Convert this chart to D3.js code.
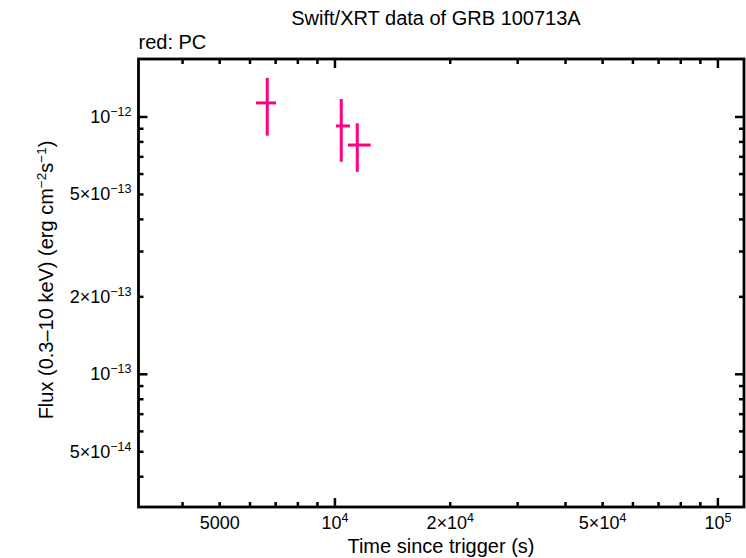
<!DOCTYPE html>
<html>
<head>
<meta charset="utf-8">
<script src="https://cdn.jsdelivr.net/npm/d3@7"></script>
<style>
  body { margin: 0; background: #fff; }
  text { font-family: "Liberation Sans", Arial, sans-serif; fill: #000; }
</style>
</head>
<body>
<div id="chart"></div>
<script>
// Swift/XRT light curve, PC mode
var times    = [6656, 10386, 11436];
var timeLo   = [6221, 10060, 10812];
var timeHi   = [7015, 10943, 12396];
var flux     = [1.134e-12, 9.23e-13, 7.78e-13];
var fluxLo   = [8.46e-13, 6.70e-13, 6.12e-13];
var fluxHi   = [1.419e-12, 1.175e-12, 9.45e-13];

var xTicks = [[5000, "5000", null], [1e4, "10", "4"], [2e4, "2\u00d710", "4"], [5e4, "5\u00d710", "4"], [1e5, "10", "5"]];
var yTicks = [[1e-12, "10", "\u221212"], [5e-13, "5\u00d710", "\u221213"], [2e-13, "2\u00d710", "\u221213"], [1e-13, "10", "\u221213"], [5e-14, "5\u00d710", "\u221214"]];

var width = 746, height = 558,
    margin = {left: 138.5, right: 2, top: 59, bottom: 51};

var svg = d3.select('#chart').append('svg')
  .attr('width', width)
  .attr('height', height);

var x = d3.scaleLog()
  .domain([3069, 1.17e5])
  .range([margin.left, width - margin.right]);

var y = d3.scaleLog()
  .domain([3.05e-14, 1.68e-12])
  .range([height - margin.bottom, margin.top]);

var x0 = x.range()[0], x1 = x.range()[1],
    y0 = y.range()[0], y1 = y.range()[1];

// minor / major ticks on all four sides
var xt = x.ticks(), yt = y.ticks();
function isDecade(v) { return Math.abs(Math.log10(v) - Math.round(Math.log10(v))) < 1e-6; }

var ticks = svg.append('g').attr('stroke', '#000').attr('stroke-width', 2.5);
xt.forEach(function(v) {
  var len = isDecade(v) ? 9 : 5;
  ticks.append('line').attr('x1', x(v)).attr('x2', x(v)).attr('y1', y0).attr('y2', y0 - len);
  ticks.append('line').attr('x1', x(v)).attr('x2', x(v)).attr('y1', y1).attr('y2', y1 + len);
});
yt.forEach(function(v) {
  var len = isDecade(v) ? 9 : 5;
  ticks.append('line').attr('y1', y(v)).attr('y2', y(v)).attr('x1', x0).attr('x2', x0 + len);
  ticks.append('line').attr('y1', y(v)).attr('y2', y(v)).attr('x1', x1).attr('x2', x1 - len);
});

svg.append('rect')
  .attr('x', x0).attr('y', y1)
  .attr('width', x1 - x0).attr('height', y0 - y1)
  .attr('fill', 'none').attr('stroke', '#000').attr('stroke-width', 2.8);

// tick labels
var xl = svg.append('g').selectAll('text').data(xTicks).enter()
  .append('text')
  .attr('x', function(d) { return x(d[0]); })
  .attr('y', y0 + 22)
  .attr('text-anchor', 'middle')
  .style('font-size', '18px');
xl.append('tspan').text(function(d) { return d[1]; });
xl.append('tspan').attr('dy', -7).style('font-size', '12.5px').text(function(d) { return d[2] || ''; });

var yl = svg.append('g').selectAll('text').data(yTicks).enter()
  .append('text')
  .attr('x', x0 - 7)
  .attr('y', function(d) { return y(d[0]) + 6; })
  .attr('text-anchor', 'end')
  .style('font-size', '18px');
yl.append('tspan').text(function(d) { return d[1]; });
yl.append('tspan').attr('dy', -7).style('font-size', '12.5px').text(function(d) { return d[2]; });

// titles
svg.append('text')
  .attr('x', 436).attr('y', 25)
  .attr('text-anchor', 'middle')
  .style('font-size', '20px')
  .text('Swift/XRT data of GRB 100713A');

svg.append('text')
  .attr('x', x0).attr('y', 49)
  .style('font-size', '20px')
  .text('red: PC');

svg.append('text')
  .attr('x', 441).attr('y', 553)
  .attr('text-anchor', 'middle')
  .style('font-size', '20px')
  .text('Time since trigger (s)');

var yTitle = svg.append('text')
  .attr('transform', 'translate(53,' + 280 + ') rotate(-90)')
  .attr('text-anchor', 'middle')
  .style('font-size', '20px');
yTitle.append('tspan').text('Flux (0.3\u201310 keV) (erg cm');
yTitle.append('tspan').attr('dy', -7).style('font-size', '13.5px').text('\u22122');
yTitle.append('tspan').attr('dy', 7).text('s');
yTitle.append('tspan').attr('dy', -7).style('font-size', '13.5px').text('\u22121');
yTitle.append('tspan').attr('dy', 7).text(')');

// data: crosses
var pts = d3.range(times.length);
var pink = '#ff0080';
var g = svg.append('g').attr('stroke', pink).attr('stroke-width', 3);
g.selectAll('.xerr').data(pts).enter().append('line')
  .attr('x1', function(i) { return x(timeLo[i]); })
  .attr('x2', function(i) { return x(timeHi[i]); })
  .attr('y1', function(i) { return y(flux[i]); })
  .attr('y2', function(i) { return y(flux[i]); });
g.selectAll('.yerr').data(pts).enter().append('line')
  .attr('x1', function(i) { return x(times[i]); })
  .attr('x2', function(i) { return x(times[i]); })
  .attr('y1', function(i) { return y(fluxLo[i]); })
  .attr('y2', function(i) { return y(fluxHi[i]); });
</script>
</body>
</html>
